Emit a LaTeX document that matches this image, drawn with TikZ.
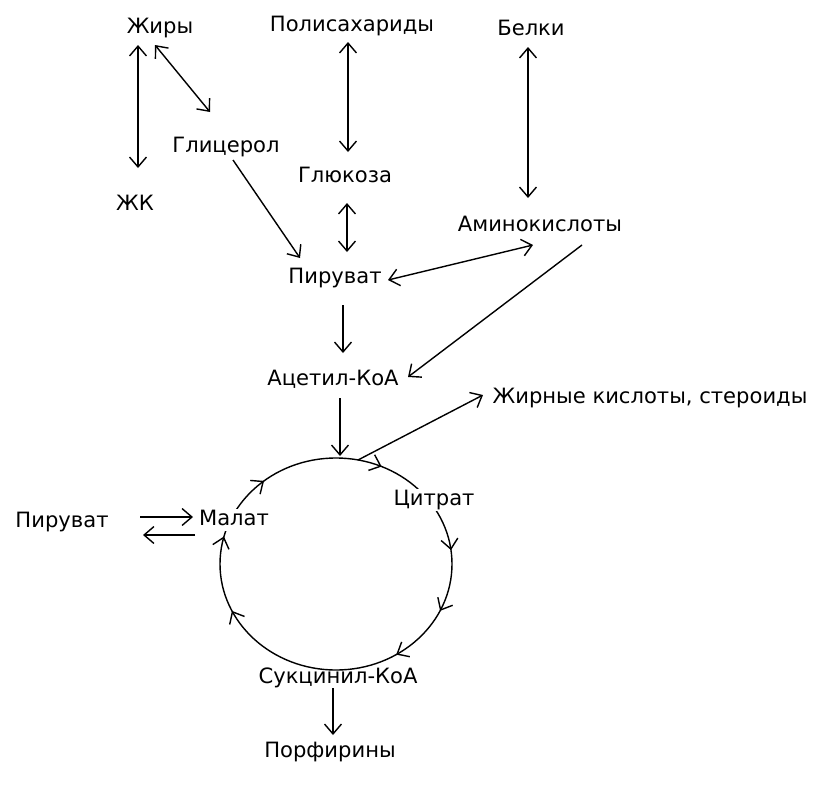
\documentclass[tikz,border=0pt]{standalone}
\usepackage{fontspec}
\setmainfont{DejaVu Sans}
\usepackage{tikz}
\usetikzlibrary{arrows.meta,decorations.markings}

\begin{document}
\begin{tikzpicture}[x=0.025cm, y=-0.025cm, line width=1pt,
  >={Straight Barb[length=7pt,width=12pt]},
  every node/.style={inner sep=1pt, text height=11pt, text depth=3pt, font=\fontsize{15}{18}\selectfont},
  onring/.style={fill=white},
  krebsmarks/.style={postaction={decorate}, decoration={markings,
    mark=at position 0.067 with {\arrow{>}},
    mark=at position 0.23 with {\arrow{>}},
    mark=at position 0.32 with {\arrow{>}},
    mark=at position 0.41 with {\arrow{>}},
    mark=at position 0.68 with {\arrow{>}},
    mark=at position 0.79 with {\arrow{>}},
    mark=at position 0.89 with {\arrow{>}}}}]
\useasboundingbox (0,0) rectangle (828,804);
% cycle
\path[draw, krebsmarks] (336,458) arc[start angle=-90, end angle=270, x radius=116, y radius=106];
\coordinate (ctop) at (340,456);
\coordinate (cout) at (358,460);
% top row
\path (160,28) node (zhiry) {Жиры};
\path (352,26) node (polis) {Полисахариды};
\path (531,30) node (belki) {Белки};
\path (135,205) node (zk) {ЖК};
\path (226,147) node (glic) {Глицерол};
\path (345,177) node (gluk) {Глюкоза};
\path (540,226) node (amino) {Аминокислоты};
\path (335,278) node (piruv) {Пируват};
\path (333,380) node (acet) {Ацетил-КоА};
\path (650,398) node (zhk) {Жирные кислоты, стероиды};
% around the cycle
\path (434,500) node[onring] (citr) {Цитрат};
\path (234,520) node[onring] (malat) {Малат};
\path (62,522) node (piruvl) {Пируват};
\path (338,678) node (sukc) {Сукцинил-КоА};
\path (330,752) node (porf) {Порфирины};
% connectors
\path[draw,<->] ([shift={(-22,17)}]zhiry.center) -- ([shift={(3,-37)}]zk.center);
\path[draw,<->] ([shift={(-5,17)}]zhiry.center) -- ([shift={(-16,-35)}]glic.center);
\path[draw,->] ([shift={(7,13)}]glic.center) -- ([shift={(-35,-20)}]piruv.center);
\path[draw,<->] ([shift={(-4,16)}]polis.center) -- ([shift={(3,-25)}]gluk.center);
\path[draw,<->] ([shift={(2,26)}]gluk.center) -- ([shift={(12,-26)}]piruv.center);
\path[draw,<->] ([shift={(-3,17)}]belki.center) -- ([shift={(-12,-28)}]amino.center);
\path[draw,<->] ([shift={(53,2)}]piruv.center) -- ([shift={(-7,19)}]amino.center);
\path[draw,->] ([shift={(42,19)}]amino.center) -- ([shift={(75,-3)}]acet.center);
\path[draw,->] ([shift={(8,27)}]piruv.center) -- ([shift={(10,-27)}]acet.center);
\path[draw,->] ([shift={(7,18)}]acet.center) -- (ctop);
\path[draw,->] (cout) -- ([shift={(-167,-3)}]zhk.center);
\path[draw,->] ([shift={(78,-5)}]piruvl.center) -- ([shift={(-41,-3)}]malat.center);
\path[draw,->] ([shift={(-39,15)}]malat.center) -- ([shift={(81,13)}]piruvl.center);
\path[draw,->] ([shift={(-5,10)}]sukc.center) -- ([shift={(3,-17)}]porf.center);
\end{tikzpicture}
\end{document}
